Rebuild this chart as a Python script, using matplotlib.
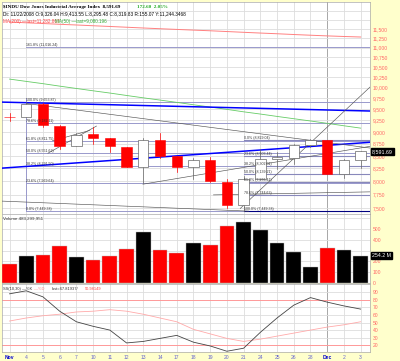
import matplotlib
matplotlib.use("Agg")
import matplotlib.pyplot as plt
import matplotlib.transforms as mtransforms

# --- data ---
day_labels = ["Nov", "4", "5", "6", "7", "10", "11", "12", "13", "14", "17",
              "18", "19", "20", "21", "24", "25", "26", "28", "Dec", "2", "3"]
opens = [9325, 9323, 9617, 9135, 8695, 8944, 8867, 8689, 8281, 8831, 8497,
         8273, 8424, 7995, 7553, 8048, 8443, 8465, 8726, 8826, 8149, 8413]
highs = [9409, 9654, 9648, 9137, 8970, 9110, 8867, 8689, 8876, 8980, 8497,
         8457, 8481, 8039, 8108, 8642, 8578, 8740, 8840, 8826, 8434, 8604]
lows = [9241, 9323, 9107, 8634, 8695, 8750, 8584, 8275, 7965, 8461, 8177,
        8050, 7995, 7507, 7449, 8048, 8236, 8340, 8683, 8141, 8059, 8255]
closes = [9319, 9625, 9139, 8695, 8943, 8870, 8693, 8282, 8835, 8497, 8273,
          8424, 7997, 7552, 8046, 8443, 8479, 8726, 8829, 8149, 8419, 8591.69]
prev_close = 9325
volume_m = [179, 255, 264, 340, 245, 217, 255, 311, 472, 302, 274,
            368, 349, 528, 566, 491, 368, 283, 151, 321, 302, 254.2]
ma200 = [11694, 11672, 11652, 11630, 11611, 11590, 11570, 11549, 11528, 11508, 11489,
         11470, 11452, 11431, 11410, 11390, 11371, 11350, 11331, 11313, 11297, 11283]
ma50 = [10206, 10150, 10095, 10036, 9980, 9925, 9872, 9815, 9760, 9708, 9655,
        9600, 9548, 9495, 9440, 9390, 9337, 9286, 9236, 9184, 9131, 9080]
ss_k = [88, 92, 84, 65, 51, 45, 40, 23, 25, 29, 33,
        24, 19, 12, 16, 37, 56, 73, 83, 77, 72, 67.8]
ss_d = [52, 56, 59, 61, 64, 65, 67, 65, 61, 56, 51,
        41, 35, 29, 25, 28, 32, 36, 40, 44, 47, 51.0]

fib_left = (7449.38, 9653.87)      # low, high
fib_left_levels = [0.0, 23.6, 38.2, 50.0, 61.8, 78.6, 100.0, 161.8]
fib_right = (7449.38, 8829.04)
fib_right_levels = [0.0, 23.6, 38.2, 50.0, 61.8, 78.6, 100.0]

# trendlines: (day index, price) endpoints
blue_lines = [((-0.45, 9661), (21.56, 9458)), ((-0.45, 8254), (21.56, 8778))]
gray_lines = [((1.05, 9627), (21.56, 8659)), ((-0.45, 7630), (14.3, 7450)),
              ((2.3, 8553), (5.2, 9125)), ((2.6, 8811), (4.8, 9030)),
              ((7.98, 7944), (21.56, 8694)), ((13.8, 7497), (21.56, 10013)),
              ((12.2, 7744), (21.56, 7800))]

W, H = 400, 361
BG = "#ffffcc"
GRID = "#dddddd"
AXLAB = "#ff6666"


def box(x0, y0, x1, y1):
    return [x0 / W, 1 - y1 / H, (x1 - x0) / W, (y1 - y0) / H]


plt.rcParams["font.family"] = ["Liberation Sans", "DejaVu Sans"]
fig = plt.figure(figsize=(W / 100, H / 100), dpi=100, facecolor=BG)
ax = fig.add_axes(box(2, 2, 370, 214))
axv = fig.add_axes(box(2, 214, 370, 283), sharex=ax)
axs = fig.add_axes(box(2, 284, 370, 352), sharex=ax)

n = len(closes)
xs = list(range(n))
for a in (ax, axv, axs):
    a.set_facecolor("white")
    for sp in a.spines.values():
        sp.set_color("#aaaaaa")
        sp.set_linewidth(0.5)
    for i in xs:
        a.axvline(i, color="#999999" if day_labels[i] == "Dec" else GRID,
                  lw=0.6, zorder=0)
    a.yaxis.tick_right()
    a.tick_params(axis="y", length=0, labelsize=3.6, labelcolor=AXLAB, pad=2)
    a.tick_params(axis="x", length=0)
ax.set_xlim(-0.45, 21.56)

# --- price panel ---
ax.set_yscale("log")
ax.set_ylim(7399, 12265)
pticks = list(range(7500, 11501, 250))
ax.set_yticks(pticks)
ax.set_yticklabels([f"{t:,}" for t in pticks])
ax.yaxis.set_minor_locator(matplotlib.ticker.NullLocator())
for t in pticks + [11750, 12000]:
    ax.axhline(t, color=GRID, lw=0.6, zorder=0)
plt.setp(ax.get_xticklabels(), visible=False)

ax.plot(xs, ma200, color="#ff8080", lw=0.7, zorder=2)
ax.plot(xs, ma50, color="#66cc66", lw=0.6, zorder=2)

# fib retracements
lo, hi = fib_left
for lv in fib_left_levels:
    p = lo + (hi - lo) * lv / 100
    ax.plot([1, 21.56], [p, p], color="#9999cc", lw=0.7, zorder=1)
    ax.text(1, p, f"{lv:.1f}% ({p:,.2f})", fontsize=2.6, color="#333333",
            va="bottom", zorder=5)
ax.plot([1, 1], [lo, hi * 1.01], color="#9999cc", lw=0.7, zorder=1)
lo, hi = fib_right
for lv in fib_right_levels:
    p = hi - (hi - lo) * lv / 100
    ax.plot([14, 21.56], [p, p],
            color="#000080" if lv == 100.0 else "#8888bb", lw=0.8, zorder=1)
    ax.text(14, p, f"{lv:.1f}% ({p:,.2f})", fontsize=2.6, color="#333333",
            va="bottom", zorder=5)

for (x0, y0), (x1, y1) in blue_lines:
    ax.plot([x0, x1], [y0, y1], color="#0000ff", lw=1.1, zorder=3)
for (x0, y0), (x1, y1) in gray_lines:
    ax.plot([x0, x1], [y0, y1], color="#555555", lw=0.45, zorder=3)

# candles
last = prev_close
for i in xs:
    o, h, l, c = opens[i], highs[i], lows[i], closes[i]
    col = "#ff0000" if c < last else "#666666"
    ax.plot([i, i], [l, h], color=col, lw=0.5, zorder=4)
    bot, top = min(o, c), max(o, c)
    if c < o:
        ax.bar(i, top - bot, bottom=bot, width=0.62, color=col,
               edgecolor=col, lw=0.4, zorder=4)
    else:
        ax.bar(i, max(top - bot, 1), bottom=bot, width=0.62, color="white",
               edgecolor=col, lw=0.5, zorder=4)
    last = c

trans = mtransforms.blended_transform_factory(ax.transAxes, ax.transData)
ax.text(1.006, closes[-1], f"{closes[-1]:,.2f}", transform=trans, fontsize=3.8,
        color="white", va="center", ha="left", clip_on=False,
        bbox=dict(fc="black", ec="black", pad=0.6))

# header texts
serif = ["Liberation Serif", "DejaVu Serif"]
fig.text(3 / W, 1 - 7 / H, "$INDU Dow Jones Industrial Average Index  8,591.69",
         fontsize=3.7, fontweight="bold", color="#000000", va="center", family=serif)
fig.text(137 / W, 1 - 7 / H, "172.60  2.05%", fontsize=3.7, fontweight="bold",
         color="#22aa22", va="center", family=serif)
fig.text(3 / W, 1 - 14 / H,
         "Dt: 11/22/2008 O:9,326.04 H:9,413.55 L:8,295.48 C:8,319.83 R:155.07 Y:11,244.3468",
         fontsize=3.4, color="#000000", va="center")
fig.text(3 / W, 1 - 21 / H, "MA(200) \u2014last=11,282.867", fontsize=3.3,
         color="#ff4444", va="center")
fig.text(55 / W, 1 - 21 / H, "MA(50) \u2014last=9,080.196", fontsize=3.3,
         color="#33aa33", va="center")

# --- volume panel ---
vcols = []
last = prev_close
for c in closes:
    vcols.append("#ff0000" if c < last else "#000000")
    last = c
axv.bar(xs, volume_m, width=0.88, color=vcols, edgecolor="#bbbbbb", lw=0.3, zorder=3)
axv.set_ylim(0, 640)
vticks = [0, 100, 200, 400, 500]
axv.set_yticks(vticks)
axv.set_yticklabels([str(t) for t in vticks])
for t in range(100, 700, 100):
    axv.axhline(t, color=GRID, lw=0.6, zorder=0)
plt.setp(axv.get_xticklabels(), visible=False)
transv = mtransforms.blended_transform_factory(axv.transAxes, axv.transData)
axv.text(1.006, volume_m[-1], "254.2 M", transform=transv, fontsize=3.8,
         color="white", va="center", ha="left", clip_on=False,
         bbox=dict(fc="black", ec="black", pad=0.6))
axv.text(0.003, 0.93, "Volume 483,299,951", transform=axv.transAxes,
         fontsize=3.2, color="#333333", va="center", zorder=5)

# --- slow stochastic panel ---
axs.set_ylim(11, 101)
sticks = list(range(20, 100, 10))
axs.set_yticks(sticks)
axs.set_yticklabels([str(t) for t in sticks])
for t in sticks:
    axs.axhline(t, color=GRID, lw=0.6, zorder=0)
axs.axhline(80, color="#ff9999", lw=0.7, zorder=1)
axs.axhline(20, color="#ff9999", lw=0.7, zorder=1)
axs.plot(xs, ss_d, color="#ffaaaa", lw=0.6, zorder=2)
axs.plot(xs, ss_k, color="#444444", lw=0.6, zorder=3)
ss_parts = [(0.0, "SS(10,30) \u2014%K", "#333333"),
            (0.084, "\u2014%D", "#ff8888"),
            (0.131, "last=67.81937/", "#333333"),
            (0.221, "50.98149", "#ff4444")]
for xf, txt, col in ss_parts:
    axs.text(0.003 + xf, 0.93, txt, transform=axs.transAxes,
             fontsize=2.9, color=col, va="center")

axs.set_xticks(xs)
axs.set_xticklabels(day_labels)
axs.tick_params(axis="x", labelsize=3.6, labelcolor="#6666cc", pad=2)
for lab in axs.get_xticklabels():
    if lab.get_text() in ("Nov", "Dec"):
        lab.set_color("#0000cc")
        lab.set_fontweight("bold")

fig.savefig("out.png", dpi=100, facecolor=BG)
